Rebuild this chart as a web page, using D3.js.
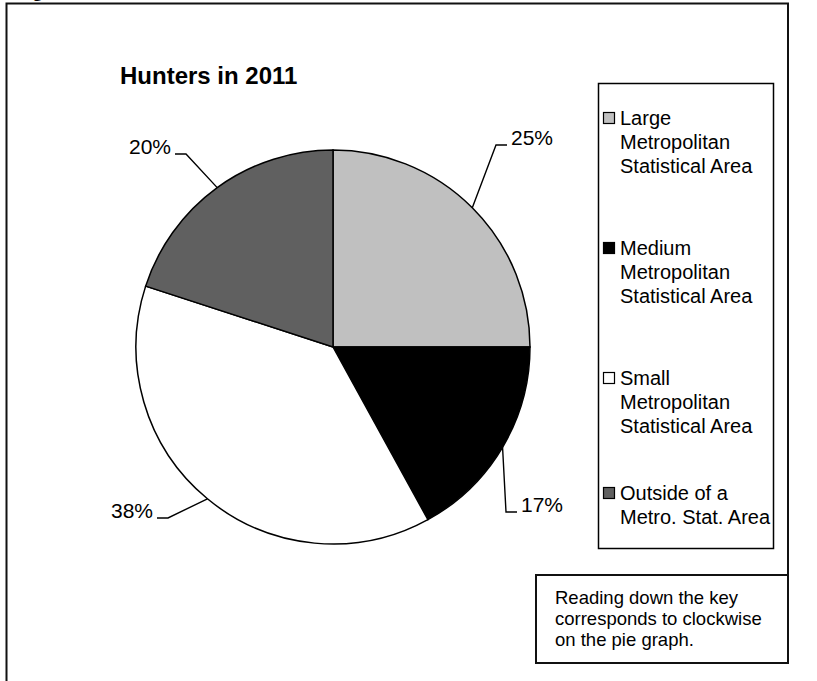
<!DOCTYPE html>
<html>
<head>
<meta charset="utf-8">
<script src="https://cdn.jsdelivr.net/npm/d3@7"></script>
<style>
  html, body { margin: 0; padding: 0; background: #fff; }
  svg { display: block; font-family: "Liberation Sans", Arial, sans-serif; }
</style>
</head>
<body>
<div id="chart"></div>
<script>
// Chart values
const categories = [
  "Large Metropolitan Statistical Area",
  "Medium Metropolitan Statistical Area",
  "Small Metropolitan Statistical Area",
  "Outside of a Metro. Stat. Area"
];
const legendLines = [
  ["Large", "Metropolitan", "Statistical Area"],
  ["Medium", "Metropolitan", "Statistical Area"],
  ["Small", "Metropolitan", "Statistical Area"],
  ["Outside of a", "Metro. Stat. Area"]
];
const shares = [25, 17, 38, 20];
const sliceColors = ["#c0c0c0", "#000000", "#ffffff", "#606060"];
const noteLines = ["Reading down the key", "corresponds to clockwise", "on the pie graph."];

/**
 * drawPie
 *
 * Draws the pie, its leader lines, legend and note box into `selector`.
 */
const drawPie = function (selector) {
  const width = 817;
  const height = 681;
  const cx = 333, cy = 347, radius = 197;

  const svg = d3.select(selector).append("svg")
    .attr("width", width)
    .attr("height", height);

  // Page frame (bottom runs off the picture)
  svg.append("path")
    .attr("d", "M6.5,681 V3.5 H788 V663")
    .attr("fill", "none")
    .attr("stroke", "#111")
    .attr("stroke-width", 2);

  // Caption of the page, mostly cut off above the frame
  svg.append("text")
    .attr("x", 17).attr("y", -3)
    .attr("font-family", "'Liberation Serif', 'Times New Roman', serif")
    .attr("font-weight", "bold")
    .attr("font-size", 18)
    .text("Figure");

  svg.append("text")
    .attr("x", 120).attr("y", 84)
    .attr("font-weight", "bold")
    .attr("font-size", 24)
    .text("Hunters in 2011");

  const pie = d3.pie().sort(null).value(d => d);
  const arcs = pie(shares);
  const arc = d3.arc().innerRadius(0).outerRadius(radius);
  const edge = d3.arc().innerRadius(radius).outerRadius(radius);

  const g = svg.append("g").attr("transform", `translate(${cx},${cy})`);

  g.selectAll("path.slice")
    .data(arcs)
    .join("path")
    .attr("class", "slice")
    .attr("d", arc)
    .attr("fill", (d, i) => sliceColors[i])
    .attr("stroke", "#000")
    .attr("stroke-width", 1.5);

  // Leader elbows and label side, relative to pie center (Excel-style callouts)
  const labelLayout = [
    { elbow: [163, -202], side: 1 },
    { elbow: [173, 165], side: 1 },
    { elbow: [-165, 171], side: -1 },
    { elbow: [-147, -193], side: -1 }
  ];

  const labels = g.append("g");
  arcs.forEach((d, i) => {
    const mid = (d.startAngle + d.endAngle) / 2;
    const p0 = edge.centroid({ startAngle: mid, endAngle: mid });
    const lay = labelLayout[i];
    const p2 = [lay.elbow[0] + lay.side * 11, lay.elbow[1]];

    labels.append("path")
      .attr("d", d3.line()([p0, lay.elbow, p2]))
      .attr("fill", "none")
      .attr("stroke", "#000")
      .attr("stroke-width", 1.4);

    labels.append("text")
      .attr("x", p2[0] + lay.side * 4)
      .attr("y", lay.elbow[1])
      .attr("text-anchor", lay.side > 0 ? "start" : "end")
      .attr("font-size", 21)
      .text(d3.format(".0%")(d.value / d3.sum(shares)));
  });

  // Legend
  const legend = svg.append("g");
  legend.append("rect")
    .attr("x", 598.5).attr("y", 83.5)
    .attr("width", 175).attr("height", 465)
    .attr("fill", "#fff")
    .attr("stroke", "#000")
    .attr("stroke-width", 1.5);

  const itemTops = [125, 255, 385, 500];
  const item = legend.selectAll("g.item")
    .data(categories)
    .join("g")
    .attr("class", "item")
    .attr("transform", (d, i) => `translate(603,${itemTops[i]})`);

  item.append("rect")
    .attr("x", 0.5).attr("y", -12.5)
    .attr("width", 11).attr("height", 11)
    .attr("fill", (d, i) => sliceColors[i])
    .attr("stroke", "#000")
    .attr("stroke-width", 1.2);

  item.append("text")
    .attr("font-size", 20)
    .selectAll("tspan")
    .data((d, i) => legendLines[i])
    .join("tspan")
    .attr("x", 17)
    .attr("y", (d, j) => j * 24)
    .text(d => d);

  // Note box
  const note = svg.append("g");
  note.append("rect")
    .attr("x", 536).attr("y", 575)
    .attr("width", 252).attr("height", 88)
    .attr("fill", "#fff")
    .attr("stroke", "#111")
    .attr("stroke-width", 2);

  note.append("text")
    .attr("font-size", 18.5)
    .selectAll("tspan")
    .data(noteLines)
    .join("tspan")
    .attr("x", 555)
    .attr("y", (d, j) => 604 + j * 21)
    .text(d => d);
};

(function () {
  drawPie("#chart");
})();
</script>
</body>
</html>
